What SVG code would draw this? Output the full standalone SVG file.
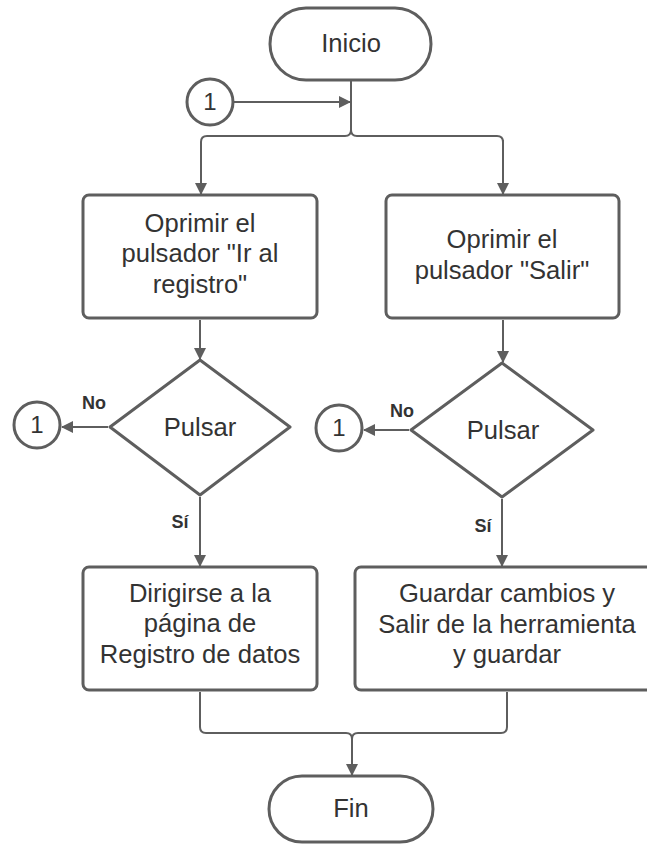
<svg xmlns="http://www.w3.org/2000/svg" width="647" height="846" viewBox="0 0 647 846">
<defs>
<marker id="arr" viewBox="0 0 12 12" refX="11" refY="6" markerWidth="12" markerHeight="12" markerUnits="userSpaceOnUse" orient="auto">
<path d="M0,0 L12,6 L0,12 Z" fill="#5e5e5e"/>
</marker>
</defs>
<style>
.shape{fill:#fff;stroke:#5e5e5e;stroke-width:3;stroke-linejoin:round}
.conn{fill:none;stroke:#5e5e5e;stroke-width:2}
.t{font-family:"Liberation Sans",Arial,sans-serif;font-size:25.6px;fill:#333;text-anchor:middle}
.n{font-family:"Liberation Sans",Arial,sans-serif;font-size:24px;fill:#333;text-anchor:middle}
.lab{font-family:"Liberation Sans",Arial,sans-serif;font-size:18px;font-weight:bold;fill:#333;text-anchor:middle}
</style>
<rect width="647" height="846" fill="#fff"/>
<g id="connectors">
<path class="conn" d="M351,80 V130 Q351,136 345,136 H207 Q201,136 201,142 V194" marker-end="url(#arr)"/>
<path class="conn" d="M351,130 Q351,136 357,136 H497 Q503,136 503,142 V194" />
<path class="conn" d="M503,140 V194" marker-end="url(#arr)"/>
<path class="conn" d="M233,102 H350" marker-end="url(#arr)"/>
<path class="conn" d="M200,320 V359" marker-end="url(#arr)"/>
<path class="conn" d="M503,320 V362" marker-end="url(#arr)"/>
<path class="conn" d="M108,427 H62" marker-end="url(#arr)"/>
<path class="conn" d="M409,430 H364" marker-end="url(#arr)"/>
<path class="conn" d="M200,497 V566" marker-end="url(#arr)"/>
<path class="conn" d="M502,499 V566" marker-end="url(#arr)"/>
<path class="conn" d="M200,692 V727 Q200,733 206,733 H346 Q352,733 352,739 V775" marker-end="url(#arr)"/>
<path class="conn" d="M507,692 V727 Q507,733 501,733 H358 Q352,733 352,739"/>
</g>
<g id="inicio">
<rect class="shape" x="270" y="8" width="161" height="72" rx="36"/>
<text class="t" x="351" y="52">Inicio</text>
</g>
<g id="conector-1-top">
<circle class="shape" cx="210" cy="102" r="23"/>
<text class="n" x="210" y="110">1</text>
</g>
<g id="oprimir-registro">
<rect class="shape" x="83" y="195" width="234" height="123" rx="6"/>
<text class="t" x="200" y="232">Oprimir el</text>
<text class="t" x="200" y="262">pulsador "Ir al</text>
<text class="t" x="200" y="293">registro"</text>
</g>
<g id="oprimir-salir">
<rect class="shape" x="386" y="195" width="233" height="123" rx="6"/>
<text class="t" x="502" y="248">Oprimir el</text>
<text class="t" x="502" y="279">pulsador "Salir"</text>
</g>
<g id="pulsar-izq">
<path class="shape" d="M200,360 L290,427 L200,495 L110,427 Z"/>
<text class="t" x="200" y="436">Pulsar</text>
</g>
<g id="pulsar-der">
<path class="shape" d="M502,363 L593,430 L502,497 L411,430 Z"/>
<text class="t" x="503" y="439">Pulsar</text>
</g>
<g id="conector-1-izq">
<circle class="shape" cx="37" cy="425" r="23"/>
<text class="n" x="37" y="433">1</text>
</g>
<g id="conector-1-der">
<circle class="shape" cx="339" cy="428" r="23"/>
<text class="n" x="339" y="436">1</text>
</g>
<g id="labels">
<text class="lab" x="94" y="409">No</text>
<text class="lab" x="402" y="417">No</text>
<text class="lab" x="180" y="528">Sí</text>
<text class="lab" x="483" y="532">Sí</text>
</g>
<g id="dirigirse">
<rect class="shape" x="83" y="567" width="234" height="123" rx="6"/>
<text class="t" x="200" y="602">Dirigirse a la</text>
<text class="t" x="200" y="632">página de</text>
<text class="t" x="200" y="663">Registro de datos</text>
</g>
<g id="guardar">
<rect class="shape" x="355" y="567" width="305" height="123" rx="6"/>
<text class="t" x="507" y="602">Guardar cambios y</text>
<text class="t" x="507" y="633">Salir de la herramienta</text>
<text class="t" x="507" y="663">y guardar</text>
</g>
<g id="fin">
<rect class="shape" x="269" y="776" width="164" height="66" rx="33"/>
<text class="t" x="351" y="817">Fin</text>
</g>
</svg>
